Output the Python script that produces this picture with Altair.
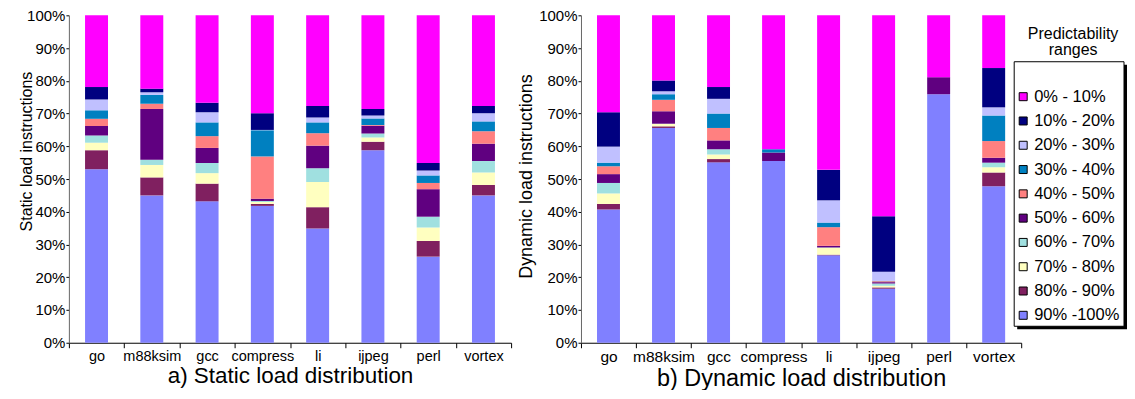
import altair as alt
import pandas as pd

benchmarks = ["go", "m88ksim", "gcc", "compress", "li", "ijpeg", "perl", "vortex"]

# predictability ranges, bottom of the stack first
ranges = ["90% -100%", "80% - 90%", "70% - 80%", "60% - 70%", "50% - 60%",
          "40% - 50%", "30% - 40%", "20% - 30%", "10% - 20%", "0% - 10%"]
legend_labels = ["90% -100%", "80% - 90%", "70% - 80%", "60% - 70%", "50% - 60%",
                 "40% - 50%", "30% - 40%", "20% - 30%", "10% - 20%", "\u00a00% - 10%"]
colors = ["#8080FF", "#802060", "#FFFFC0", "#A0E0E0", "#600080",
          "#FF8080", "#0080C0", "#C0C0FF", "#000080", "#FF00FF"]

# Static load distribution (% of static loads), one list per range, per benchmark
static = {
    "90% -100%": [53.0, 45.0, 43.2, 41.8, 34.9, 58.8, 26.3, 45.0],
    "80% - 90%": [5.8, 5.5, 5.4, 0.6, 6.5, 2.6, 4.8, 3.2],
    "70% - 80%": [2.3, 3.8, 3.2, 0.6, 7.7, 1.3, 4.1, 3.8],
    "60% - 70%": [2.2, 1.6, 3.1, 0.3, 4.2, 1.2, 3.3, 3.5],
    "50% - 60%": [2.9, 15.5, 4.6, 0.7, 6.9, 2.4, 8.4, 5.3],
    "40% - 50%": [2.2, 1.6, 3.6, 12.9, 3.8, 0.2, 1.9, 3.8],
    "30% - 40%": [2.6, 2.7, 4.2, 8.0, 3.3, 2.0, 2.3, 3.0],
    "20% - 30%": [3.3, 0.8, 3.1, 0.1, 1.5, 0.9, 1.5, 2.5],
    "10% - 20%": [3.8, 1.1, 2.9, 5.1, 3.5, 2.0, 2.3, 2.2],
    "0% - 10%": [21.9, 22.4, 26.7, 29.9, 27.7, 28.6, 45.1, 27.7],
}

# Dynamic load distribution
dynamic = {
    "90% -100%": [40.7, 65.6, 55.1, 55.5, 26.7, 16.5, 75.9, 47.8],
    "80% - 90%": [1.7, 0.5, 1.0, 0.0, 0.2, 0.4, 0.0, 4.2],
    "70% - 80%": [3.2, 0.7, 1.4, 0.0, 2.1, 0.5, 0.0, 1.6],
    "60% - 70%": [3.2, 0.1, 1.6, 0.0, 0.1, 0.7, 0.0, 1.4],
    "50% - 60%": [2.7, 3.8, 2.7, 2.6, 0.5, 0.4, 5.2, 1.5],
    "40% - 50%": [2.4, 3.5, 3.8, 0.0, 5.7, 0.3, 0.0, 5.1],
    "30% - 40%": [1.1, 1.7, 4.4, 1.0, 1.4, 0.1, 0.0, 7.8],
    "20% - 30%": [4.9, 0.9, 4.5, 0.0, 6.8, 2.8, 0.0, 2.5],
    "10% - 20%": [10.5, 3.3, 3.6, 0.0, 9.3, 16.9, 0.0, 12.0],
    "0% - 10%": [29.6, 19.9, 21.9, 40.9, 47.2, 61.4, 18.9, 16.1],
}


def to_frame(d):
    rows = []
    for k, r in enumerate(ranges):
        for b, v in zip(benchmarks, d[r]):
            rows.append({"bench": b, "range": r, "order": k, "value": v})
    return pd.DataFrame(rows)


legend_order = ranges[::-1]
color_scale = alt.Scale(domain=legend_order, range=colors[::-1])
FONT = "Liberation Sans"
W, H = 441, 328


def bar_panel(df, ytitle, xtitle, title_x, title_y, ytitle_size, xlabel_size, xtitle_size, width):
    return alt.Chart(df).mark_bar(size=23).encode(
        x=alt.X("bench:N", sort=benchmarks,
                scale=alt.Scale(paddingInner=0, paddingOuter=0),
                axis=alt.Axis(title=xtitle, tickBand="extent", labelAngle=0,
                              tickSize=5, labelPadding=2, labelFontSize=xlabel_size,
                              titleFontSize=xtitle_size, titleFontWeight="normal",
                              titlePadding=1, domainColor="black", tickColor="black",
                              labelColor="black", titleColor="black")),
        y=alt.Y("value:Q", stack="normalize",
                scale=alt.Scale(domain=[0, 1], nice=False),
                axis=alt.Axis(values=[i / 10 for i in range(11)], format=".0%",
                              title=ytitle, titleX=title_x, titleY=title_y,
                              titleAngle=-90, titleBaseline="alphabetic",
                              titleFontSize=ytitle_size, titleFontWeight="normal",
                              grid=False, tickSize=3, labelPadding=1, labelFontSize=15,
                              domainColor="#666666", tickColor="black",
                              labelColor="black", titleColor="black")),
        color=alt.Color("range:N", scale=color_scale, legend=None),
        order=alt.Order("order:Q", sort="ascending"),
    ).properties(width=width, height=H)


left = bar_panel(to_frame(static), "Static load instructions", "a) Static load distribution",
                 -37, 136, 16, 14.5, 22.5, W + 2)
right_bars = bar_panel(to_frame(dynamic), "Dynamic load instructions", "b) Dynamic load distribution",
                       -50, 161, 18, 15.5, 23.5, W)

leg_df = pd.DataFrame({"range": legend_order, "label": legend_labels[::-1]})
one = pd.DataFrame({"k": [0]})

BX = W - 7  # legend box left edge, relative to right plot
BW = 110
shadow = alt.Chart(one).mark_rect(color="black").encode(
    x=alt.value(BX + 3), x2=alt.value(BX + BW + 3), y=alt.value(49.5), y2=alt.value(314.5))
frame = alt.Chart(one).mark_rect(fill="white", stroke="black", strokeWidth=1).encode(
    x=alt.value(BX), x2=alt.value(BX + BW), y=alt.value(46.5), y2=alt.value(311.5))
ytick = alt.Y("range:N", sort=legend_order, axis=None,
              scale=alt.Scale(type="point", range=[81.5, 300.5], padding=0))
squares = alt.Chart(leg_df).mark_square(size=64, stroke="black", strokeWidth=1, opacity=1).encode(
    x=alt.value(BX + 9), y=ytick,
    fill=alt.Color("range:N", scale=color_scale, legend=None))
labels = alt.Chart(leg_df).mark_text(align="left", baseline="middle", fontSize=16.5,
                                     font=FONT, color="black").encode(
    x=alt.value(BX + 20), y=ytick, text="label:N")
leg_title = alt.Chart(one).mark_text(align="center", baseline="top", fontSize=16, font=FONT,
                                     color="black", lineBreak="\n", lineHeight=16).encode(
    x=alt.value(BX + 59), y=alt.value(11), text=alt.value("Predictability\nranges"))

right = alt.layer(right_bars, shadow, frame, squares, labels, leg_title).resolve_scale(
    y="independent")

chart = alt.hconcat(left, right, spacing=5).properties(
    padding={"left": 10, "top": 0, "right": 0, "bottom": 0}
).configure(font=FONT).configure_view(strokeWidth=0).configure_axis(
    labelFont=FONT, titleFont=FONT)

chart.save("out.html", embed_options={"renderer": "svg", "actions": False})
